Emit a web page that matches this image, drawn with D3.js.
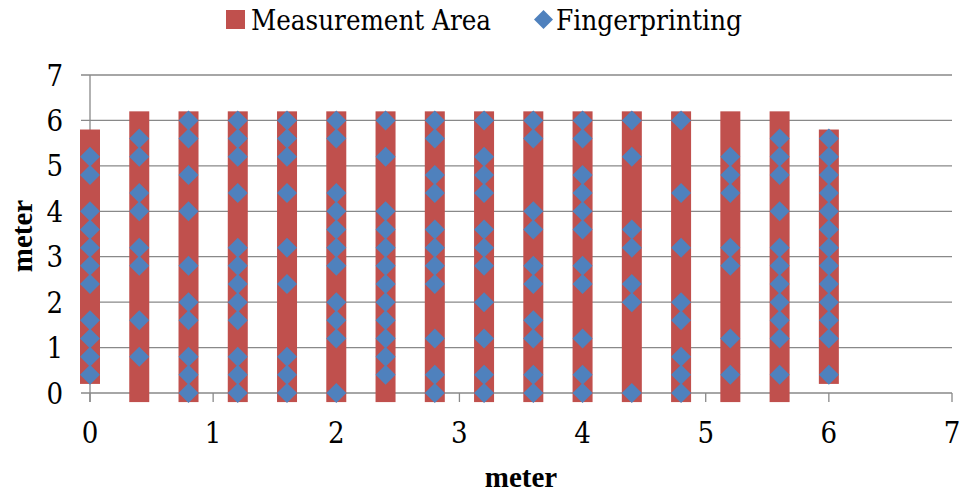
<!DOCTYPE html>
<html>
<head>
<meta charset="utf-8">
<script src="https://cdn.jsdelivr.net/npm/d3@7"></script>
<style>
  html, body { margin: 0; padding: 0; background: #fff; }
  svg { display: block; }
</style>
</head>
<body>
<svg id="chart" width="964" height="493"></svg>
<script>
// ---- data ----
const xTicks = [0, 1, 2, 3, 4, 5, 6, 7];
const yTicks = [0, 1, 2, 3, 4, 5, 6, 7];
const measX    = [0, 0.4, 0.8, 1.2, 1.6, 2.0, 2.4, 2.8, 3.2, 3.6, 4.0, 4.4, 4.8, 5.2, 5.6, 6.0];
const measLow  = [0.2, -0.2, -0.2, -0.2, -0.2, -0.2, -0.2, -0.2, -0.2, -0.2, -0.2, -0.2, -0.2, -0.2, -0.2, 0.2];
const measHigh = [5.8, 6.2, 6.2, 6.2, 6.2, 6.2, 6.2, 6.2, 6.2, 6.2, 6.2, 6.2, 6.2, 6.2, 6.2, 5.8];
const fpX = [0, 0.4, 0.8, 1.2, 1.6, 2.0, 2.4, 2.8, 3.2, 3.6, 4.0, 4.4, 4.8, 5.2, 5.6, 6.0];
const fpY = [
  [5.2, 4.8, 4.0, 3.6, 3.2, 2.8, 2.4, 1.6, 1.2, 0.8, 0.4],
  [5.6, 5.2, 4.4, 4.0, 3.2, 2.8, 1.6, 0.8],
  [6.0, 5.6, 4.8, 4.0, 2.8, 2.0, 1.6, 0.8, 0.4, 0],
  [6.0, 5.6, 5.2, 4.4, 3.2, 2.8, 2.4, 2.0, 1.6, 0.8, 0.4, 0],
  [6.0, 5.6, 5.2, 4.4, 3.2, 2.4, 0.8, 0.4, 0],
  [6.0, 5.6, 4.4, 4.0, 3.6, 3.2, 2.8, 2.0, 1.6, 1.2, 0],
  [6.0, 5.2, 4.0, 3.6, 3.2, 2.8, 2.4, 2.0, 1.6, 1.2, 0.8, 0.4],
  [6.0, 5.6, 4.8, 4.4, 3.6, 3.2, 2.8, 2.4, 1.2, 0.4, 0],
  [6.0, 5.2, 4.8, 4.4, 3.6, 3.2, 2.8, 2.0, 1.2, 0.4, 0],
  [6.0, 5.6, 4.0, 3.6, 2.8, 2.4, 1.6, 1.2, 0.4, 0],
  [6.0, 5.6, 4.8, 4.4, 4.0, 3.6, 2.8, 2.4, 1.2, 0.4, 0],
  [6.0, 5.2, 3.6, 3.2, 2.4, 2.0, 0],
  [6.0, 4.4, 3.2, 2.0, 1.6, 0.8, 0.4, 0],
  [5.2, 4.8, 4.4, 3.2, 2.8, 1.2, 0.4],
  [5.6, 5.2, 4.8, 4.0, 3.2, 2.8, 2.4, 2.0, 1.6, 1.2, 0.4],
  [5.6, 5.2, 4.8, 4.4, 4.0, 3.6, 3.2, 2.8, 2.4, 2.0, 1.6, 1.2, 0.4]
];
const seriesNames = ["Measurement Area", "Fingerprinting"];
const axisTitleX = "meter";
const axisTitleY = "meter";

// ---- layout ----
const RED = "#C0504D", BLUE = "#4F81BD", GRID = "#898989";
const FONT_R = "'DejaVu Serif Condensed', 'DejaVu Serif', serif";
const FONT_B = "'Liberation Serif', 'Times New Roman', serif";
const pLeft = 90, pRight = 952, pTop = 75, pBottom = 393;
const svg = d3.select("#chart");
const x = d3.scaleLinear().domain([0, 7]).range([pLeft, pRight]);
const y = d3.scaleLinear().domain([0, 7]).range([pBottom, pTop]);

// gridlines
svg.append("g").selectAll("line").data(yTicks).join("line")
  .attr("x1", pLeft - 9).attr("x2", pRight)
  .attr("y1", d => y(d)).attr("y2", d => y(d))
  .attr("stroke", GRID).attr("stroke-width", 1.3);

// y axis line
svg.append("line").attr("x1", pLeft).attr("x2", pLeft)
  .attr("y1", pTop).attr("y2", pBottom + 9)
  .attr("stroke", GRID).attr("stroke-width", 1.3);
// x ticks
svg.append("g").selectAll("line").data(xTicks).join("line")
  .attr("x1", d => x(d)).attr("x2", d => x(d))
  .attr("y1", pBottom).attr("y2", pBottom + 9)
  .attr("stroke", GRID).attr("stroke-width", 1.3);

// tick labels
svg.append("g").selectAll("text").data(yTicks).join("text")
  .attr("x", 63).attr("y", d => y(d) + 10.5)
  .attr("text-anchor", "end").attr("font-family", FONT_R)
  .attr("font-size", 29).attr("fill", "#000")
  .text(d => d);
svg.append("g").selectAll("text").data(xTicks).join("text")
  .attr("x", d => x(d)).attr("y", 443)
  .attr("text-anchor", "middle").attr("font-family", FONT_R)
  .attr("font-size", 29).attr("fill", "#000")
  .text(d => d);

// axis titles
svg.append("text").attr("x", 521).attr("y", 487)
  .attr("text-anchor", "middle").attr("font-family", FONT_B)
  .attr("font-size", 29).attr("font-weight", "bold")
  .text(axisTitleX);
svg.append("text").attr("transform", "translate(32,236) rotate(-90)")
  .attr("text-anchor", "middle").attr("font-family", FONT_B)
  .attr("font-size", 29).attr("font-weight", "bold")
  .text(axisTitleY);

// measurement area bars
const barW = 20;
svg.append("g").selectAll("rect").data(measX).join("rect")
  .attr("x", d => x(d) - barW / 2)
  .attr("width", barW)
  .attr("y", (d, i) => y(measHigh[i]))
  .attr("height", (d, i) => y(measLow[i]) - y(measHigh[i]))
  .attr("fill", RED);

// fingerprinting diamonds
const pts = [];
fpX.forEach((xv, i) => fpY[i].forEach(yv => pts.push([xv, yv])));
const dSize = 10;
const diamond = `M0,${-dSize}L${dSize},0L0,${dSize}L${-dSize},0Z`;
svg.append("g").selectAll("path").data(pts).join("path")
  .attr("transform", d => `translate(${x(d[0])},${y(d[1])})`)
  .attr("d", diamond)
  .attr("fill", BLUE);

// legend
const lg = svg.append("g");
lg.append("rect").attr("x", 226).attr("y", 10).attr("width", 19).attr("height", 19).attr("fill", RED);
lg.append("text").attr("x", 251).attr("y", 29.5).attr("font-family", FONT_R)
  .attr("font-size", 27).attr("textLength", 240).attr("lengthAdjust", "spacingAndGlyphs")
  .text(seriesNames[0]);
lg.append("path").attr("transform", "translate(543.5,19.5)")
  .attr("d", `M0,-9.5L9.5,0L0,9.5L-9.5,0Z`).attr("fill", BLUE);
lg.append("text").attr("x", 556).attr("y", 29.5).attr("font-family", FONT_R)
  .attr("font-size", 27).attr("textLength", 186).attr("lengthAdjust", "spacingAndGlyphs")
  .text(seriesNames[1]);
</script>
</body>
</html>
